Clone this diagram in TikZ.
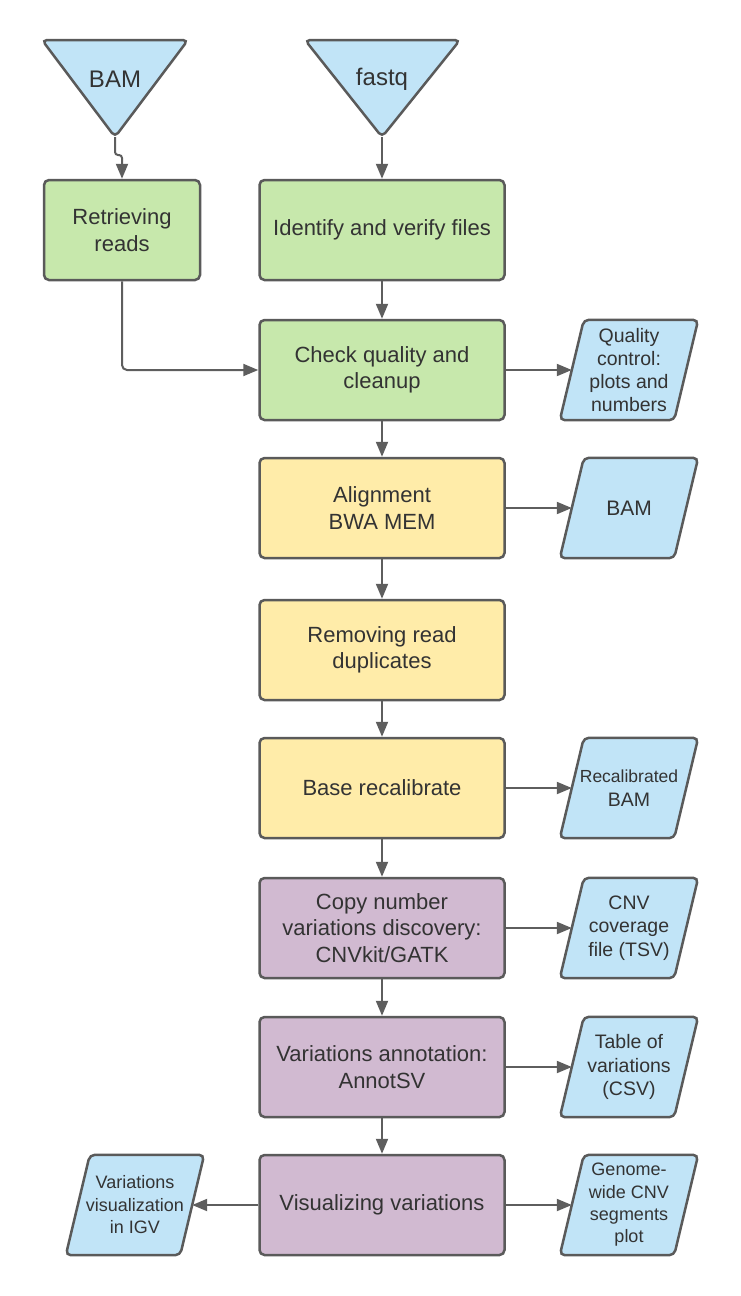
\documentclass[tikz,border=0pt]{standalone}
\usepackage{fontspec}
\setmainfont{Liberation Sans}
\usetikzlibrary{arrows.meta,backgrounds}
\definecolor{bluef}{HTML}{C1E4F7}
\definecolor{greenf}{HTML}{C7E8AC}
\definecolor{yellowf}{HTML}{FFECA9}
\definecolor{purplef}{HTML}{D1BAD1}
\definecolor{edgec}{HTML}{5A5A5A}
\definecolor{linec}{HTML}{5E5E5E}
\definecolor{txtc}{HTML}{333333}
\begin{document}
\begin{tikzpicture}[x=1pt,y=-1pt,
  box/.style={draw=edgec, line width=2.5pt, rounded corners=5pt, minimum width=245pt,
    minimum height=100pt, align=center, text=txtc, inner sep=0pt,
    font=\fontsize{22}{26.5}\selectfont},
  gbox/.style={box, fill=greenf},
  ybox/.style={box, fill=yellowf},
  pbox/.style={box, fill=purplef},
  ptext/.style={minimum width=114pt, minimum height=100pt, align=center, text=txtc, inner sep=0pt},
  pshape/.style={draw=edgec, line width=2.5pt, rounded corners=5pt, fill=bluef},
  arr/.style={draw=linec, line width=2pt, -{Triangle[length=15pt,width=12pt]}},
]
\useasboundingbox (0,0) rectangle (740,1296);

% input triangles
\draw[pshape] (42,40) -- (188,40) -- (115,137) -- cycle;
\draw[pshape] (305,40) -- (460,40) -- (382,137) -- cycle;
\coordinate (bamtip) at (115,137);
\coordinate (fqtip) at (382,137);
\node[text=txtc, font=\fontsize{24}{28}\selectfont] (bamin) at (115,79) {BAM};
\node[text=txtc, font=\fontsize{24}{28}\selectfont] (fqin) at (382,79) {fastq};

% process boxes
\node[gbox, minimum width=156pt] (retr) at (122,230) {Retrieving\\reads};
\node[gbox] (ident) at (382,230) {Identify and verify files};
\node[gbox] (check) at (382,370) {Check quality and\\cleanup};
\node[ybox] (align) at (382,508) {Alignment\\BWA MEM};
\node[ybox] (remove) at (382,650) {Removing read\\duplicates};
\node[ybox] (base) at (382,788) {Base recalibrate};
\node[pbox] (copy) at (382,928) {Copy number\\variations discovery:\\CNVkit/GATK};
\node[pbox] (annot) at (382,1067) {Variations annotation:\\AnnotSV};
\node[pbox] (vis) at (382,1205) {Visualizing variations};

% data parallelograms (text nodes)
\node[ptext, font=\fontsize{19.5}{23.3}\selectfont] (qc) at (629,370) {Quality\\control:\\plots and\\numbers};
\node[ptext, font=\fontsize{21}{25}\selectfont] (bamo) at (629,508) {BAM};
\node[ptext, font=\fontsize{17.5}{23.5}\selectfont] (recal) at (629,788) {Recalibrated\\{\fontsize{19.5}{23.5}\selectfont BAM}};
\node[ptext, font=\fontsize{19.5}{23.5}\selectfont] (cnv) at (629,928) {CNV\\coverage\\file (TSV)};
\node[ptext, font=\fontsize{19.5}{23.5}\selectfont] (tab) at (629,1067) {Table of\\variations\\(CSV)};
\node[ptext, font=\fontsize{18}{22.3}\selectfont] (gen) at (629,1205) {Genome-\\wide CNV\\segments\\plot};
\node[ptext, font=\fontsize{18}{22.5}\selectfont] (igv) at (135,1205) {Variations\\visualization\\in IGV};

\begin{pgfonlayer}{background}
\foreach \n in {qc,bamo,recal,cnv,tab,gen,igv}
  \draw[pshape] ([xshift=-12pt]\n.south west) -- ([xshift=-12pt]\n.south east)
    -- ([xshift=12pt]\n.north east) -- ([xshift=12pt]\n.north west) -- cycle;
\end{pgfonlayer}

% connectors
\draw[arr, rounded corners=3pt] (bamtip) -- ++(0,18) -| (retr.north);
\draw[arr] (fqtip) -- (ident.north);
\draw[arr, rounded corners=5pt] (retr.south) |- (check.west);
\draw[arr] (ident.south) -- (check.north);
\draw[arr] (check.south) -- (align.north);
\draw[arr] (align.south) -- (remove.north);
\draw[arr] (remove.south) -- (base.north);
\draw[arr] (base.south) -- (copy.north);
\draw[arr] (copy.south) -- (annot.north);
\draw[arr] (annot.south) -- (vis.north);
\draw[arr] (check.east) -- (qc.west);
\draw[arr] (align.east) -- (bamo.west);
\draw[arr] (base.east) -- (recal.west);
\draw[arr] (copy.east) -- (cnv.west);
\draw[arr] (annot.east) -- (tab.west);
\draw[arr] (vis.east) -- (gen.west);
\draw[arr] (vis.west) -- (igv.east);
\end{tikzpicture}
\end{document}
